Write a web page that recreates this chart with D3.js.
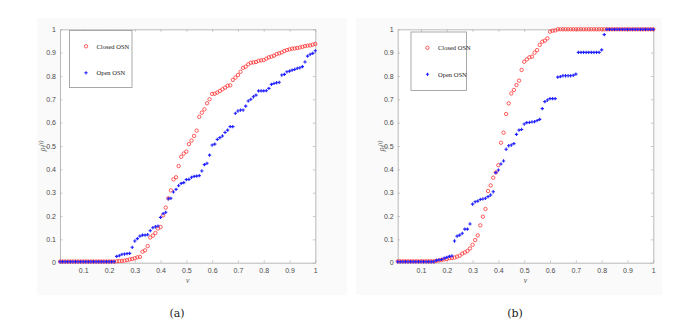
<!DOCTYPE html>
<html>
<head>
<meta charset="utf-8">
<script src="https://cdn.jsdelivr.net/npm/d3@7"></script>
<style>
    body { margin: 0; background: #fff; }
    svg { display: block; }
</style>
</head>
<body>
<script>
// threshold values nu = 0.01 .. 1.00 (step 0.01), same for both panels
const nu = d3.range(1, 101).map(i => i / 100);

const xTicks = [0.1, 0.2, 0.3, 0.4, 0.5, 0.6, 0.7, 0.8, 0.9, 1];
const yTicks = [0, 0.1, 0.2, 0.3, 0.4, 0.5, 0.6, 0.7, 0.8, 0.9, 1];
const seriesNames = ["Closed OSN", "Open OSN"];
const panelLabels = ["(a)", "(b)"];

// panel (a)
const closedA = [
    0.005, 0.005, 0.005, 0.005, 0.005, 0.005, 0.005, 0.005, 0.005, 0.005,
    0.005, 0.005, 0.005, 0.005, 0.005, 0.005, 0.005, 0.005, 0.005, 0.005,
    0.005, 0.005, 0.006, 0.007, 0.008, 0.009, 0.011, 0.014, 0.016, 0.019,
    0.023, 0.025, 0.047, 0.053, 0.071, 0.108, 0.116, 0.127, 0.147, 0.153,
    0.203, 0.236, 0.276, 0.31, 0.357, 0.366, 0.414, 0.454, 0.468, 0.476,
    0.508, 0.523, 0.543, 0.566, 0.625, 0.643, 0.657, 0.683, 0.7, 0.723,
    0.724, 0.729, 0.736, 0.743, 0.75, 0.758, 0.76, 0.783, 0.793, 0.804,
    0.818, 0.835, 0.84, 0.85, 0.857, 0.858, 0.86, 0.865, 0.867, 0.868,
    0.874, 0.88, 0.883, 0.887, 0.894, 0.897, 0.901, 0.907, 0.911, 0.914,
    0.917, 0.918, 0.92, 0.922, 0.925, 0.928, 0.93, 0.931, 0.934, 0.937
];
const openA = [
    0.004, 0.004, 0.004, 0.004, 0.004, 0.004, 0.004, 0.004, 0.004, 0.004,
    0.004, 0.004, 0.004, 0.004, 0.004, 0.004, 0.004, 0.004, 0.004, 0.004,
    0.004, 0.004, 0.027, 0.03, 0.036, 0.037, 0.039, 0.04, 0.066, 0.093,
    0.103, 0.114, 0.118, 0.118, 0.12, 0.137, 0.15, 0.154, 0.157, 0.194,
    0.21, 0.216, 0.274, 0.276, 0.303, 0.314, 0.33, 0.34, 0.343, 0.356,
    0.357, 0.366, 0.37, 0.371, 0.373, 0.393, 0.42, 0.426, 0.461, 0.504,
    0.508, 0.528, 0.536, 0.543, 0.558, 0.568, 0.583, 0.583, 0.64, 0.65,
    0.654, 0.654, 0.671, 0.693, 0.7, 0.711, 0.718, 0.736, 0.736, 0.736,
    0.737, 0.747, 0.764, 0.768, 0.771, 0.773, 0.804, 0.807, 0.818, 0.821,
    0.825, 0.828, 0.833, 0.835, 0.84, 0.86, 0.885, 0.893, 0.897, 0.908
];

// panel (b)
const closedB = [
    0.006, 0.006, 0.006, 0.006, 0.006, 0.006, 0.006, 0.006, 0.006, 0.006,
    0.006, 0.006, 0.006, 0.006, 0.006, 0.008, 0.01, 0.012, 0.014, 0.016,
    0.019, 0.02, 0.022, 0.026, 0.03, 0.039, 0.044, 0.05, 0.061, 0.077,
    0.097, 0.117, 0.16, 0.197, 0.23, 0.307, 0.331, 0.364, 0.387, 0.418,
    0.514, 0.557, 0.637, 0.683, 0.725, 0.74, 0.761, 0.78, 0.826, 0.861,
    0.871, 0.88, 0.883, 0.9, 0.911, 0.933, 0.947, 0.951, 0.961, 0.99,
    0.994, 0.995, 1, 1, 1, 1, 1, 1, 1, 1,
    1, 1, 1, 1, 1, 1, 1, 1, 1, 1,
    1, 1, 1, 1, 1, 1, 1, 1, 1, 1,
    1, 1, 1, 1, 1, 1, 1, 1, 1, 1
];
const openB = [
    0.004, 0.004, 0.004, 0.004, 0.004, 0.004, 0.004, 0.004, 0.004, 0.004,
    0.004, 0.004, 0.004, 0.004, 0.004, 0.01, 0.012, 0.014, 0.019, 0.023,
    0.027, 0.029, 0.093, 0.114, 0.118, 0.126, 0.144, 0.144, 0.166, 0.251,
    0.261, 0.264, 0.271, 0.273, 0.276, 0.283, 0.29, 0.304, 0.386, 0.397,
    0.423, 0.436, 0.486, 0.501, 0.504, 0.51, 0.55, 0.568, 0.571, 0.594,
    0.6, 0.601, 0.603, 0.604, 0.609, 0.614, 0.66, 0.69, 0.697, 0.703,
    0.703, 0.703, 0.795, 0.797, 0.801, 0.801, 0.801, 0.801, 0.803, 0.808,
    0.901, 0.901, 0.901, 0.901, 0.901, 0.901, 0.901, 0.901, 0.901, 0.912,
    0.977, 1, 1, 1, 1, 1, 1, 1, 1, 1,
    1, 1, 1, 1, 1, 1, 1, 1, 1, 1
];

const W = 692, H = 335;
const svg = d3.select("body").append("svg")
    .attr("width", W)
    .attr("height", H);

const panels = [
    { closed: closedA, open: openA, left: 60, right: 315.3, bg: [37, 18, 310, 277],
      legend: [69.5, 30.5, 62.5, 57], ylabelX: 45 },
    { closed: closedB, open: openB, left: 397.7, right: 653.3, bg: [356, 18, 306, 277],
      legend: [411, 32, 55.5, 58.5], ylabelX: 384 }
];
const plotTop = 29.3, plotBottom = 262.7;

panels.forEach((p, k) => {
    let g = svg.append("g");

    // light figure background behind the axes
    g.append("rect")
        .attr("x", p.bg[0]).attr("y", p.bg[1])
        .attr("width", p.bg[2]).attr("height", p.bg[3])
        .attr("fill", "#fafafa");

    let x = d3.scaleLinear().domain([0.01, 1]).range([p.left, p.right]);
    let y = d3.scaleLinear().domain([0, 1]).range([plotBottom, plotTop]);

    g.append("rect")
        .attr("x", p.left).attr("y", plotTop)
        .attr("width", p.right - p.left).attr("height", plotBottom - plotTop)
        .attr("fill", "#fff");

    let fmt = d => d3.format("~g")(d);
    // axes: ticks point inward, labels only bottom/left
    let bx = g.append("g")
        .attr("transform", "translate(0," + plotBottom + ")")
        .call(d3.axisBottom(x).tickValues(xTicks).tickFormat(fmt).tickSizeInner(-2.5).tickSizeOuter(0).tickPadding(5));
    let tx = g.append("g")
        .attr("transform", "translate(0," + plotTop + ")")
        .call(d3.axisTop(x).tickValues(xTicks).tickFormat("").tickSizeInner(-2.5).tickSizeOuter(0));
    let ly = g.append("g")
        .attr("transform", "translate(" + p.left + ",0)")
        .call(d3.axisLeft(y).tickValues(yTicks).tickFormat(fmt).tickSizeInner(-2.5).tickSizeOuter(0).tickPadding(4));
    let ry = g.append("g")
        .attr("transform", "translate(" + p.right + ",0)")
        .call(d3.axisRight(y).tickValues(yTicks).tickFormat("").tickSizeInner(-2.5).tickSizeOuter(0));
    [bx, tx, ly, ry].forEach(a => {
        a.selectAll("path").attr("stroke", "#a8a8a8").attr("stroke-width", 0.8);
        a.selectAll("line").attr("stroke", "#a8a8a8").attr("stroke-width", 0.6);
        a.selectAll("text")
            .attr("fill", "#4a4a4a")
            .style("font-family", "Liberation Sans, Arial, sans-serif")
            .style("font-size", "7px");
    });

    // closed OSN: red open circles
    g.append("g").selectAll("circle")
        .data(p.closed)
        .join("circle")
        .attr("cx", (d, i) => x(nu[i]))
        .attr("cy", d => y(d))
        .attr("r", 1.7)
        .attr("fill", "none")
        .attr("stroke", "#ff2a2a")
        .attr("stroke-width", 0.75);

    // open OSN: blue plus markers
    let plus = d3.symbol().type(d3.symbolCross).size(6);
    g.append("g").selectAll("path")
        .data(p.open)
        .join("path")
        .attr("transform", (d, i) => "translate(" + x(nu[i]) + "," + y(d) + ")")
        .attr("d", plus)
        .attr("fill", "#1f1fff");

    // legend
    let L = p.legend;
    let lg = g.append("g");
    lg.append("rect")
        .attr("x", L[0]).attr("y", L[1])
        .attr("width", L[2]).attr("height", L[3])
        .attr("fill", "#fff")
        .attr("stroke", "#a0a0a0")
        .attr("stroke-width", 0.9);
    let mx = L[0] + 16.5;
    lg.append("circle")
        .attr("cx", mx).attr("cy", L[1] + 15.8)
        .attr("r", 1.7).attr("fill", "none")
        .attr("stroke", "#ff2a2a").attr("stroke-width", 0.75);
    lg.append("path")
        .attr("transform", "translate(" + mx + "," + (L[1] + 42.3) + ")")
        .attr("d", plus).attr("fill", "#1f1fff");
    seriesNames.forEach((name, j) => {
        lg.append("text")
            .attr("x", L[0] + 27)
            .attr("y", L[1] + (j === 0 ? 15.8 : 42.3))
            .attr("dy", "0.35em")
            .style("font-family", "Liberation Serif, Times New Roman, serif")
            .style("font-size", "6.5px")
            .attr("fill", "#222")
            .text(name);
    });

    // axis labels
    g.append("text")
        .attr("x", (p.left + p.right) / 2)
        .attr("y", 283)
        .attr("text-anchor", "middle")
        .style("font-family", "Liberation Serif, serif")
        .style("font-style", "italic")
        .style("font-size", "7.5px")
        .attr("fill", "#555")
        .text("ν");

    let yl = g.append("text")
        .attr("transform", "translate(" + p.ylabelX + "," + ((plotTop + plotBottom) / 2) + ") rotate(-90)")
        .attr("text-anchor", "middle")
        .style("font-family", "Liberation Serif, serif")
        .style("font-style", "italic")
        .style("font-size", "8px")
        .attr("fill", "#555");
    yl.append("tspan").text("ρ");
    yl.append("tspan").attr("dy", 1.8).style("font-size", "5.5px").text("f");
    yl.append("tspan").attr("dy", -3.6).style("font-size", "5.5px").text("(t)");

    // panel caption
    g.append("text")
        .attr("x", k === 0 ? 177 : 515)
        .attr("y", 317)
        .attr("text-anchor", "middle")
        .style("font-family", "DejaVu Serif, serif")
        .style("font-size", "11px")
        .attr("fill", "#222")
        .text(panelLabels[k]);
});
</script>
</body>
</html>
